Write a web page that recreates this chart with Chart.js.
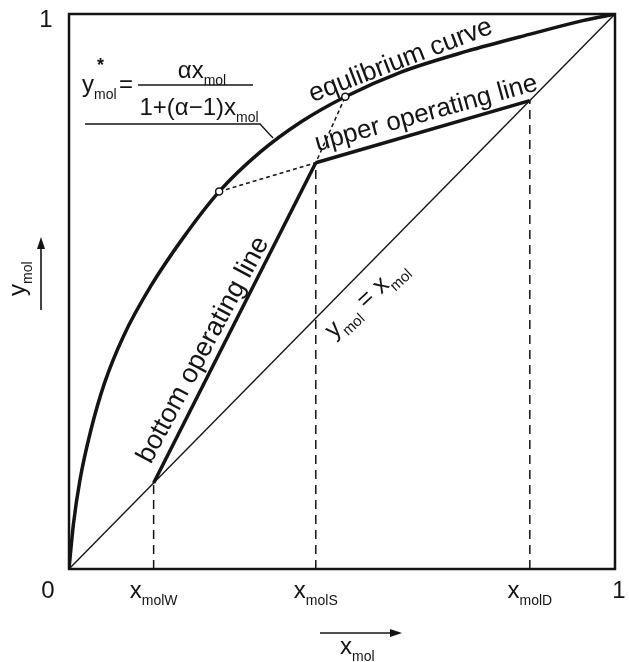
<!DOCTYPE html>
<html>
<head>
<meta charset="utf-8">
<script src="https://cdn.jsdelivr.net/npm/chart.js@4.4.0/dist/chart.umd.min.js"></script>
<style>
  html, body { margin: 0; padding: 0; background: #fff; }
  canvas { display: block; }
</style>
</head>
<body>
<canvas id="chart" width="629" height="662"></canvas>
<script>
// equilibrium curve
const eqX = [0, 0.008, 0.02, 0.04, 0.065, 0.1, 0.15, 0.21, 0.275, 0.35, 0.424, 0.506, 0.607, 0.729, 0.85, 0.941, 1];
const eqY = [0, 0.08, 0.16, 0.25, 0.335, 0.42, 0.51, 0.598, 0.68, 0.751, 0.805, 0.851, 0.895, 0.933, 0.965, 0.988, 1];

// y = x diagonal
const diagX = [0, 1];
const diagY = [0, 1];

// key points W, S, D
const keyX = [0.155, 0.452, 0.844];
const keyY = [0.155, 0.732, 0.844];

// operating lines
const bottomX = [0.155, 0.452];
const bottomY = [0.155, 0.732];
const upperX = [0.452, 0.844];
const upperY = [0.732, 0.844];

// dotted construction line through S, with the two open circles on the curve
const qX = [0.275, 0.452, 0.506];
const qY = [0.68, 0.732, 0.851];
const circX = [0.275, 0.506];
const circY = [0.68, 0.851];

// tick labels
const xTickValues = [0, 0.155, 0.452, 0.844, 1];
const xTickLabels = [['0', ''], ['x', 'molW'], ['x', 'molS'], ['x', 'molD'], ['1', '']];
const yTickValues = [1];
const yTickLabels = ['1'];

const FONT = '"Liberation Sans", Arial, Helvetica, sans-serif';
const INK = '#141414';

const pts = (xs, ys) => xs.map((x, i) => ({ x: x, y: ys[i] }));

// draws runs of text, second item 's' = subscript
function drawRuns(ctx, x, y, parts, size, align, angle, dy) {
    ctx.save();
    ctx.translate(x, y);
    ctx.rotate((angle || 0) * Math.PI / 180);
    const sub = Math.round(size * 0.6);
    let w = 0;
    parts.forEach(p => {
        ctx.font = (p[1] === 's' ? sub : size) + 'px ' + FONT;
        w += ctx.measureText(p[0]).width;
    });
    let cx = align === 'center' ? -w / 2 : 0;
    ctx.textAlign = 'left';
    ctx.textBaseline = 'alphabetic';
    parts.forEach(p => {
        const s = p[1] === 's';
        ctx.font = (s ? sub : size) + 'px ' + FONT;
        ctx.fillText(p[0], cx, (dy || 0) + (s ? size * 0.3 : 0));
        cx += ctx.measureText(p[0]).width;
    });
    ctx.restore();
}

function arrow(ctx, x1, y1, x2, y2) {
    const a = Math.atan2(y2 - y1, x2 - x1);
    ctx.beginPath();
    ctx.moveTo(x1, y1);
    ctx.lineTo(x2 - 8 * Math.cos(a), y2 - 8 * Math.sin(a));
    ctx.lineWidth = 1.6;
    ctx.stroke();
    ctx.beginPath();
    ctx.moveTo(x2, y2);
    ctx.lineTo(x2 - 12 * Math.cos(a) + 4 * Math.sin(a), y2 - 12 * Math.sin(a) - 4 * Math.cos(a));
    ctx.lineTo(x2 - 12 * Math.cos(a) - 4 * Math.sin(a), y2 - 12 * Math.sin(a) + 4 * Math.cos(a));
    ctx.closePath();
    ctx.fill();
}

const annotations = {
    id: 'annotations',
    beforeDraw(chart) {
        const ctx = chart.ctx;
        ctx.save();
        ctx.fillStyle = '#fff';
        ctx.fillRect(0, 0, chart.width, chart.height);
        ctx.restore();
    },
    afterDatasetsDraw(chart) {
        const ctx = chart.ctx;
        const a = chart.chartArea;
        const xs = chart.scales.x, ys = chart.scales.y;
        const px = v => xs.getPixelForValue(v), py = v => ys.getPixelForValue(v);
        ctx.save();
        ctx.strokeStyle = INK;
        ctx.fillStyle = INK;

        // frame
        ctx.lineWidth = 2.5;
        ctx.strokeRect(a.left, a.top, a.right - a.left, a.bottom - a.top);

        // tick labels
        xTickValues.forEach((v, i) => {
            let x = px(v);
            if (v === 0) x -= 21;
            if (v === 1) x += 4;
            drawRuns(ctx, x, a.bottom + 29, [[xTickLabels[i][0], ''], [xTickLabels[i][1], 's']], 24, 'center');
        });
        yTickValues.forEach((v, i) => {
            drawRuns(ctx, a.left - 23, py(v) + 13, [[yTickLabels[i], '']], 24, 'center');
        });

        // axis titles with arrows
        arrow(ctx, a.left + 251, a.bottom + 64, a.left + 333, a.bottom + 64);
        drawRuns(ctx, a.left + 271, a.bottom + 85, [['x', ''], ['mol', 's']], 24, 'left');
        arrow(ctx, 41, 310, 41, 237);
        drawRuns(ctx, 25, 296, [['y', ''], ['mol', 's']], 24, 'left', -90);

        // curve labels
        drawRuns(ctx, px(0.607), py(0.917), [['equlibrium curve', '']], 26.5, 'center', -21, 8);
        drawRuns(ctx, px(0.654), py(0.822), [['upper operating line', '']], 26, 'center', -15.5, 8);
        drawRuns(ctx, px(0.245), py(0.395), [['bottom operating line', '']], 27, 'center', -62, 8);
        drawRuns(ctx, px(0.543), py(0.487), [['y', ''], ['mol', 's'], [' = x', ''], ['mol', 's']], 25, 'center', -43, 8);

        // equilibrium formula
        const fx = a.left, fy = a.top;
        drawRuns(ctx, fx + 13, fy + 78, [['y', ''], ['mol', 's']], 24, 'left');
        ctx.font = 'bold 18px ' + FONT;
        ctx.textAlign = 'left';
        ctx.textBaseline = 'alphabetic';
        ctx.fillText('*', fx + 28, fy + 57);
        drawRuns(ctx, fx + 50, fy + 78, [['=', '']], 24, 'left');
        ctx.lineWidth = 1.5;
        ctx.beginPath();
        ctx.moveTo(fx + 69, fy + 71);
        ctx.lineTo(fx + 184, fy + 71);
        ctx.stroke();
        drawRuns(ctx, fx + 133, fy + 64, [['\u03b1x', ''], ['mol', 's']], 24, 'center');
        drawRuns(ctx, fx + 130, fy + 101, [['1+(\u03b1\u22121)x', ''], ['mol', 's']], 24, 'center');

        // leader line to the curve
        ctx.lineWidth = 1.3;
        ctx.beginPath();
        ctx.moveTo(fx + 16, fy + 110);
        ctx.lineTo(fx + 191, fy + 110);
        ctx.lineTo(fx + 204, fy + 124);
        ctx.stroke();

        ctx.restore();
    }
};

const dashed = (x, y) => ({
    data: [{ x: x, y: 0 }, { x: x, y: y }],
    showLine: true,
    borderColor: INK,
    borderWidth: 1.5,
    borderDash: [9, 6],
    pointRadius: 0
});

new Chart(document.getElementById('chart'), {
    type: 'scatter',
    data: {
        datasets: [
            {
                data: pts(circX, circY),
                showLine: false,
                pointRadius: 3.5,
                pointBackgroundColor: '#fff',
                pointBorderColor: INK,
                pointBorderWidth: 1.5
            },
            {
                data: pts(eqX, eqY),
                showLine: true,
                cubicInterpolationMode: 'monotone',
                borderColor: INK,
                borderWidth: 3.5,
                pointRadius: 0
            },
            {
                data: pts(bottomX, bottomY),
                showLine: true,
                borderColor: INK,
                borderWidth: 3.5,
                pointRadius: 0
            },
            {
                data: pts(upperX, upperY),
                showLine: true,
                borderColor: INK,
                borderWidth: 3.5,
                pointRadius: 0
            },
            {
                data: pts(diagX, diagY),
                showLine: true,
                borderColor: INK,
                borderWidth: 1.4,
                pointRadius: 0
            },
            {
                data: pts(qX, qY),
                showLine: true,
                borderColor: INK,
                borderWidth: 1.5,
                borderDash: [4, 3],
                pointRadius: 0
            },
            ...keyX.map((x, i) => dashed(x, keyY[i]))
        ]
    },
    options: {
        responsive: false,
        animation: false,
        devicePixelRatio: 1,
        layout: { padding: { left: 69, top: 14, right: 14, bottom: 93 } },
        plugins: { legend: { display: false }, tooltip: { enabled: false } },
        scales: {
            x: { type: 'linear', min: 0, max: 1, display: false },
            y: { type: 'linear', min: 0, max: 1, display: false }
        }
    },
    plugins: [annotations]
});
</script>
</body>
</html>
